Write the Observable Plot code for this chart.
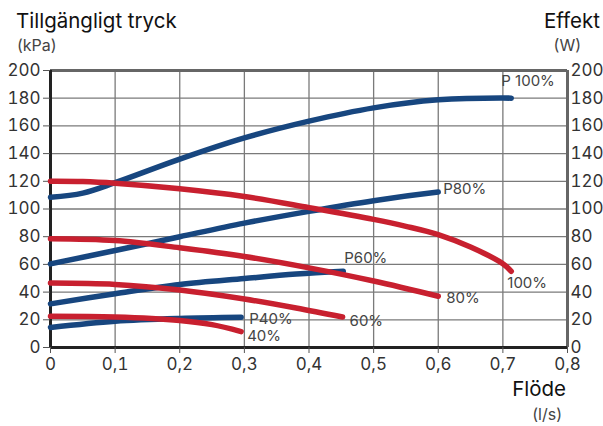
<!DOCTYPE html>
<html>
<head>
<meta charset="utf-8">
<script src="https://cdn.jsdelivr.net/npm/d3@7"></script>
<script src="https://cdn.jsdelivr.net/npm/@observablehq/plot@0.6"></script>
<style>
  html, body { margin: 0; padding: 0; background: #fff; }
  #chart { width: 603px; height: 426px; }
  svg { font-family: Inter, "Open Sans", sans-serif; }
</style>
</head>
<body>
<div id="chart"></div>
<script>
// ---- Data ----
const xTicks = [0, 0.1, 0.2, 0.3, 0.4, 0.5, 0.6, 0.7, 0.8];
const yTicks = [0, 20, 40, 60, 80, 100, 120, 140, 160, 180, 200];

// Pressure curves (red), kPa
const flowT100 = [0, 0.05, 0.1, 0.2, 0.3, 0.4, 0.5, 0.55, 0.6, 0.65, 0.7, 0.713];
const tryck100 = [120, 119.8, 118.6, 114.6, 109, 101, 92.5, 87.5, 81.5, 72.5, 60.5, 55];
const flowT80 = [0, 0.1, 0.2, 0.3, 0.4, 0.5, 0.6];
const tryck80 = [78.5, 77.2, 72, 65.7, 57.5, 48, 37];
const flowT60 = [0, 0.1, 0.2, 0.3, 0.38, 0.452];
const tryck60 = [46.5, 45.5, 41.5, 35, 28.5, 22];
const flowT40 = [0, 0.1, 0.2, 0.25, 0.295];
const tryck40 = [22.5, 22, 19.5, 16.5, 11.5];

// Power curves (blue), W
const flowP100 = [0, 0.05, 0.1, 0.2, 0.3, 0.4, 0.5, 0.6, 0.7, 0.713];
const effekt100 = [108.5, 111.5, 119, 136, 151.3, 163.4, 173, 178.8, 180.2, 180];
const flowP80 = [0, 0.1, 0.2, 0.3, 0.4, 0.5, 0.6];
const effekt80 = [60.4, 70, 80, 89.8, 98.3, 106, 112.2];
const flowP60 = [0, 0.1, 0.2, 0.3, 0.38, 0.453];
const effekt60 = [31.5, 38.8, 45.5, 49.8, 53, 55];
const flowP40 = [0, 0.1, 0.2, 0.295];
const effekt40 = [14.5, 19, 21, 21.8];

const tryckLabels = ["100%", "80%", "60%", "40%"];
const effektLabels = ["P 100%", "P80%", "P60%", "P40%"];

// ---- Build tables ----
const toRows = (xs, ys) => xs.map((x, i) => ({x, y: ys[i]}));
const tryck = [
  toRows(flowT100, tryck100), toRows(flowT80, tryck80),
  toRows(flowT60, tryck60), toRows(flowT40, tryck40)
];
const effekt = [
  toRows(flowP100, effekt100), toRows(flowP80, effekt80),
  toRows(flowP60, effekt60), toRows(flowP40, effekt40)
];
const last = s => s[s.length - 1];

const RED = "#c8202f";
const BLUE = "#17467f";
const fmt = d => d3.format(".1~f")(d).replace(".", ",");

// label offsets (pixels) relative to curve end
const tOff = [[-4, 12], [8, 2], [7, 4], [6, 5]];
const pOff = [[-10, -17], [5, -3], [1, -13], [8, 2]];

const labelMark = (series, texts, offs, idx, boxed) =>
  Plot.text([last(series[idx])], {
    x: "x", y: "y", text: () => texts[idx],
    dx: offs[idx][0], dy: offs[idx][1],
    textAnchor: "start", lineAnchor: "middle",
    fontSize: 15, fill: "#444",
    ariaLabel: boxed ? "boxed" : "label"
  });

const marks = [
  Plot.gridX(xTicks, {stroke: "#7a7a7a", strokeOpacity: 1, strokeWidth: 1.3}),
  Plot.gridY(yTicks, {stroke: "#7a7a7a", strokeOpacity: 1, strokeWidth: 1.3}),
  Plot.ruleY([200], {stroke: "#666", strokeWidth: 3}),
  Plot.ruleX([0.8], {stroke: "#666", strokeWidth: 3}),
  Plot.ruleX([0], {stroke: "#222", strokeWidth: 3}),
  Plot.ruleY([0], {stroke: "#222", strokeWidth: 3}),
  Plot.axisY(yTicks, {anchor: "left", tickSize: 7, tickPadding: 3, fontSize: 17, stroke: "#555", fill: "#333", label: null, tickFormat: d => String(d)}),
  Plot.axisY(yTicks, {anchor: "right", tickSize: 0, tickPadding: 3, fontSize: 17, fill: "#333", label: null, tickFormat: d => String(d)}),
  Plot.axisX(xTicks, {anchor: "bottom", tickSize: 6, tickPadding: 4, fontSize: 17, stroke: "#555", fill: "#333", label: null, tickFormat: fmt})
];
for (const s of effekt) marks.push(Plot.line(s, {x: "x", y: "y", stroke: BLUE, strokeWidth: 5.5, strokeLinecap: "round", curve: "catmull-rom"}));
for (const s of tryck) marks.push(Plot.line(s, {x: "x", y: "y", stroke: RED, strokeWidth: 5.5, strokeLinecap: "round", curve: "catmull-rom"}));
for (let i = 0; i < 4; i++) {
  marks.push(labelMark(tryck, tryckLabels, tOff, i, i === 2));
  marks.push(labelMark(effekt, effektLabels, pOff, i, i >= 2));
}

const plot = Plot.plot({
  width: 603, height: 426,
  marginLeft: 50, marginRight: 36, marginTop: 70, marginBottom: 79,
  style: {fontFamily: "Inter, 'Open Sans', sans-serif", background: "#fff"},
  x: {domain: [0, 0.8], axis: null},
  y: {domain: [0, 200], axis: null},
  marks
});
document.getElementById("chart").appendChild(plot);

// white boxes behind labels that sit on grid lines
const svg = d3.select(plot);
svg.selectAll('g[aria-label="boxed"] text').each(function () {
  const b = this.getBBox();
  const g = this.parentNode;
  const r = document.createElementNS("http://www.w3.org/2000/svg", "rect");
  r.setAttribute("x", b.x - 2);
  r.setAttribute("y", b.y + 3);
  r.setAttribute("width", b.width + 14);
  r.setAttribute("height", Math.max(0, b.height - 6));
  r.setAttribute("fill", "#fff");
  const t = this.getAttribute("transform");
  if (t) r.setAttribute("transform", t);
  g.insertBefore(r, this);
});

// titles
const titles = [
  {t: "Tillgängligt tryck", x: 16, y: 28, s: 20.5, a: "start", c: "#111"},
  {t: "(kPa)", x: 17, y: 51, s: 16, a: "start", c: "#444"},
  {t: "Effekt", x: 600, y: 28, s: 20.5, a: "end", c: "#111"},
  {t: "(W)", x: 581, y: 51, s: 16, a: "end", c: "#444"},
  {t: "Flöde", x: 566, y: 396, s: 20.5, a: "end", c: "#111"},
  {t: "(l/s)", x: 562, y: 420, s: 16, a: "end", c: "#444"}
];
svg.append("g").selectAll("text").data(titles).join("text")
  .attr("x", d => d.x).attr("y", d => d.y)
  .attr("font-size", d => d.s).attr("text-anchor", d => d.a)
  .attr("fill", d => d.c).text(d => d.t);
</script>
</body>
</html>
